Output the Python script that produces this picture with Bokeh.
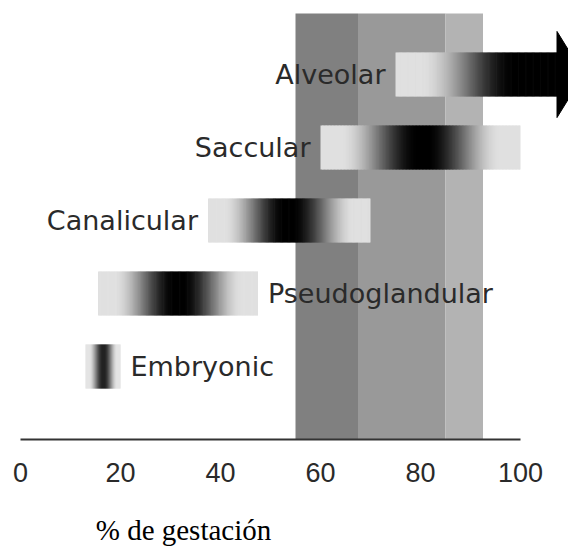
import numpy as np
from bokeh.plotting import figure
from bokeh.models import Range1d, FixedTicker, LinearAxis, ColumnDataSource
from bokeh.core.properties import value
from bokeh.embed import file_html
from bokeh.resources import INLINE

# ---- data ----
stages = ["Embryonic", "Pseudoglandular", "Canalicular", "Saccular", "Alveolar"]
stage_start = [13, 15.5, 37.5, 60, 75]
stage_end = [20, 47.5, 70, 100, 107.4]
stage_peak = [16.6, 31.6, 53.6, 80.4, 100]
label_side = ["right", "right", "left", "left", "left"]
band_start = [55, 67.5, 85]
band_end = [67.5, 85, 92.5]
band_color = ["#808080", "#999999", "#b3b3b3"]
ticks = [0, 20, 40, 60, 80, 100]
axis_title = "% de gestación"
axis_title_pos = 32.6

# ---- style ----
BAR_HALF = 0.3
HEAD_HALF = 0.59
HEAD_LEN = 5.2
LIGHT = 224
N = 140
LABEL_FONT = "DejaVu Sans"
LABEL_SIZE = "27px"

p = figure(width=568, height=548, x_range=Range1d(-4, 109.6), y_range=Range1d(-1, 5.014),
           output_backend="svg", toolbar_location=None, x_axis_type=None, y_axis_type=None,
           min_border_left=0, min_border_right=0, min_border_top=0, min_border_bottom=109,
           title=None)
p.outline_line_color = None
p.background_fill_color = "white"
p.border_fill_color = "white"

# background bands
p.quad(left=band_start, right=band_end, bottom=-1, top=4.836, fill_color=band_color, line_color=None)

# gradient bars
def shade(v, s, e, pk, arrow):
    if v <= pk:
        d = (pk - v) / (pk - s)
    else:
        d = 0.0 if arrow else (v - pk) / (e - pk)
    u = min(max((d - 0.04) / 0.76, 0.0), 1.0)
    g = int(round(LIGHT * (3 * u * u - 2 * u ** 3)))
    return "#%02x%02x%02x" % (g, g, g)

L, R, B, T, C = [], [], [], [], []
for i, (s, e, pk) in enumerate(zip(stage_start, stage_end, stage_peak)):
    arrow = stages[i] == "Alveolar"
    edges = np.linspace(s, e, N + 1)
    w = edges[1] - edges[0]
    for k in range(N):
        mid = 0.5 * (edges[k] + edges[k + 1])
        L.append(edges[k])
        R.append(min(edges[k + 1] + 0.6 * w, e))
        B.append(i - BAR_HALF)
        T.append(i + BAR_HALF)
        C.append(shade(mid, s, e, pk, arrow))
p.quad(left=L, right=R, bottom=B, top=T, fill_color=C, line_color=None)

# arrow head for Alveolar
ia = stages.index("Alveolar")
ea = stage_end[ia]
p.patch(x=[ea - 0.1, ea - 0.1, ea + HEAD_LEN], y=[ia - HEAD_HALF, ia + HEAD_HALF, ia],
        fill_color="black", line_color="black", line_width=1)

# labels
lx, la = [], []
for s, e, side in zip(stage_start, stage_end, label_side):
    if side == "left":
        lx.append(s - 2)
        la.append("right")
    else:
        lx.append(e + 2)
        la.append("left")
src = ColumnDataSource(dict(x=lx, y=list(range(len(stages))), text=stages, align=la))
p.text(x="x", y="y", text="text", text_align="align", text_baseline="middle", source=src,
       text_font=value(LABEL_FONT), text_font_size=LABEL_SIZE, text_color="#2a2a2a")

# x axis
ax = LinearAxis(ticker=FixedTicker(ticks=ticks), bounds=(0, 100))
ax.axis_line_color = "#333333"
ax.axis_line_width = 2
ax.major_tick_out = 0
ax.major_tick_in = 0
ax.minor_tick_out = 0
ax.minor_tick_in = 0
ax.major_label_standoff = 23
ax.major_label_text_font = "Liberation Sans"
ax.major_label_text_font_size = "27px"
ax.major_label_text_color = "#2a2a2a"
p.add_layout(ax, "below")

# axis title drawn as a second (line-less) axis whose single tick label is the title
ax2 = LinearAxis(ticker=FixedTicker(ticks=[axis_title_pos]),
                 major_label_overrides={axis_title_pos: axis_title})
ax2.axis_line_color = None
ax2.major_tick_line_color = None
ax2.minor_tick_line_color = None
ax2.major_tick_out = 0
ax2.major_tick_in = 0
ax2.minor_tick_out = 0
ax2.minor_tick_in = 0
ax2.major_label_standoff = 29
ax2.major_label_text_font = "Liberation Serif"
ax2.major_label_text_font_size = "29px"
ax2.major_label_text_color = "black"
p.add_layout(ax2, "below")

open("out.html", "w").write(file_html(p, INLINE))
